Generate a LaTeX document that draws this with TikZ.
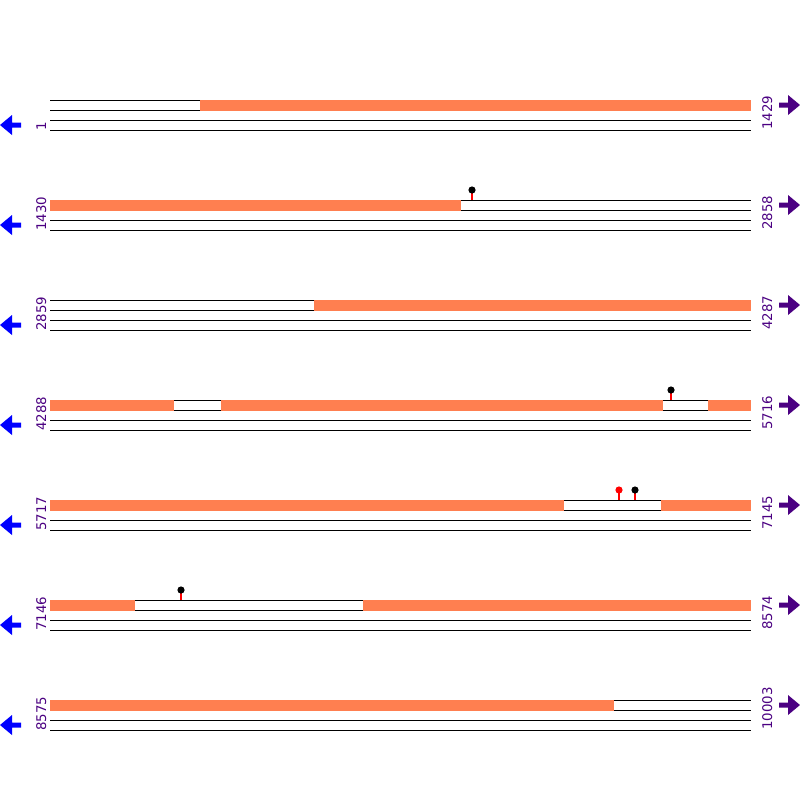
\documentclass[tikz,border=0pt]{standalone}
\usepackage{fontspec}
\setmainfont{DejaVu Sans}
\definecolor{seqorange}{RGB}{255,127,80}
\definecolor{lblpurple}{RGB}{75,0,130}
\definecolor{arrblue}{RGB}{0,0,255}
\definecolor{popred}{RGB}{255,0,0}
\begin{document}
\begin{tikzpicture}[x=0.75pt,y=-0.75pt,
  strand/.style={draw=black,line width=0.75pt},
  orseg/.style={fill=seqorange,draw=none},
  numlbl/.style={rotate=90,anchor=base west,inner sep=0pt,text=lblpurple,font=\fontsize{10pt}{12pt}\selectfont},
  revarrow/.style={fill=arrblue,draw=none},
  fwdarrow/.style={fill=lblpurple,draw=none},
  stem/.style={draw=popred,line width=0.9pt},
  headblack/.style={fill=black,draw=none},
  headred/.style={fill=popred,draw=none}]
\useasboundingbox (0,0) rectangle (800,800);
\fill[white] (0,0) rectangle (800,800);
% row strands, arrows
\foreach \r in {0,...,6}{
  \pgfmathsetmacro{\yy}{100+100*\r}
  \foreach \d in {0,10,20,30}{
    \draw[strand] (50,\yy+\d) -- (751,\yy+\d);
  }
  \fill[revarrow] (0,\yy+25) -- (12,\yy+15) -- (12,\yy+22.5) -- (21,\yy+22.5) -- (21,\yy+27.5) -- (12,\yy+27.5) -- (12,\yy+35) -- cycle;
  \fill[fwdarrow] (800,\yy+5) -- (788,\yy-5) -- (788,\yy+2.5) -- (779,\yy+2.5) -- (779,\yy+7.5) -- (788,\yy+7.5) -- (788,\yy+15) -- cycle;
}
% orange segments
\fill[orseg] (200,99.5) rectangle (751,110.5);
\fill[orseg] (50,199.5) rectangle (461,210.5);
\fill[orseg] (314,299.5) rectangle (751,310.5);
\fill[orseg] (50,399.5) rectangle (174,410.5);
\fill[orseg] (221,399.5) rectangle (663,410.5);
\fill[orseg] (708,399.5) rectangle (751,410.5);
\fill[orseg] (50,499.5) rectangle (564,510.5);
\fill[orseg] (661,499.5) rectangle (751,510.5);
\fill[orseg] (50,599.5) rectangle (135,610.5);
\fill[orseg] (363,599.5) rectangle (751,610.5);
\fill[orseg] (50,699.5) rectangle (614,710.5);
% lollipops
\draw[stem] (472,190) -- (472,200); \fill[headblack] (472,190) circle (3.6);
\draw[stem] (671,390) -- (671,400); \fill[headblack] (671,390) circle (3.6);
\draw[stem] (619,490) -- (619,500); \fill[headred] (619,490) circle (3.6);
\draw[stem] (635,490) -- (635,500); \fill[headblack] (635,490) circle (3.6);
\draw[stem] (181,590) -- (181,600); \fill[headblack] (181,590) circle (3.6);
% labels
\node[numlbl] (l1) at (46,131) {1};
\node[numlbl] (r1) at (772,130) {1429};
\node[numlbl] (l2) at (46,231) {1430};
\node[numlbl] (r2) at (772,230) {2858};
\node[numlbl] (l3) at (46,331) {2859};
\node[numlbl] (r3) at (772,330) {4287};
\node[numlbl] (l4) at (46,431) {4288};
\node[numlbl] (r4) at (772,430) {5716};
\node[numlbl] (l5) at (46,531) {5717};
\node[numlbl] (r5) at (772,530) {7145};
\node[numlbl] (l6) at (46,631) {7146};
\node[numlbl] (r6) at (772,630) {8574};
\node[numlbl] (l7) at (46,731) {8575};
\node[numlbl] (r7) at (772,730) {10003};
\end{tikzpicture}
\end{document}
